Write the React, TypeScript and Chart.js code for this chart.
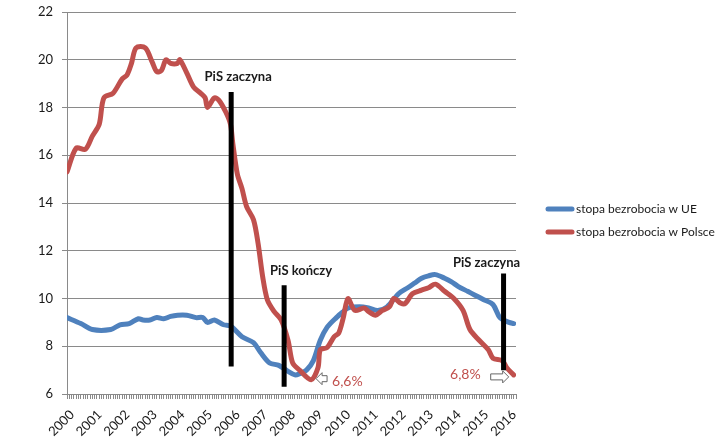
import React, { useEffect, useRef } from 'react';
import { Chart, registerables, Plugin } from 'chart.js';

Chart.register(...registerables);

// months counted from Jan 2000
const plMonths = [0, 4, 8, 11, 14, 16, 20, 24, 26, 28, 30, 34, 37, 39, 41, 43, 45, 48, 49, 52, 55, 58, 60, 61, 64, 66, 69, 71, 72, 74, 76, 78, 81, 83, 85, 87, 90, 93, 96, 98, 101, 106, 109, 110, 113, 116, 118, 120, 122, 125, 129, 131, 134, 137, 140, 142, 145, 147, 150, 154, 157, 160, 164, 168, 172, 175, 179, 183, 185, 189, 191, 194];
const plRate = [15.3, 16.3, 16.25, 16.8, 17.3, 18.4, 18.6, 19.2, 19.35, 19.85, 20.5, 20.5, 19.9, 19.5, 19.55, 20.0, 19.85, 19.85, 20.0, 19.45, 18.85, 18.6, 18.4, 18.0, 18.4, 18.3, 17.8, 17.3, 16.5, 15.2, 14.6, 13.85, 13.3, 12.3, 10.9, 9.95, 9.45, 9.1, 8.25, 7.3, 7.0, 6.6, 7.1, 7.85, 7.95, 8.4, 8.55, 9.2, 10.0, 9.5, 9.6, 9.45, 9.3, 9.5, 9.65, 10.0, 9.8, 9.8, 10.2, 10.35, 10.45, 10.6, 10.3, 10.0, 9.5, 8.7, 8.25, 7.85, 7.5, 7.4, 7.1, 6.8];

const ueMonths = [0, 6, 11, 19, 23, 27, 31, 33, 36, 39, 42, 45, 48, 52, 56, 59, 61, 64, 68, 71, 76, 81, 84, 88, 92, 96, 99, 101, 104, 107, 110, 113, 117, 120, 122, 127, 131, 135, 139, 144, 148, 151, 154, 157, 160, 164, 167, 170, 174, 177, 181, 185, 188, 192, 194];
const ueRate = [9.2, 8.95, 8.7, 8.7, 8.9, 8.95, 9.15, 9.1, 9.1, 9.2, 9.15, 9.25, 9.3, 9.3, 9.2, 9.2, 9.0, 9.1, 8.9, 8.85, 8.4, 8.15, 7.75, 7.3, 7.2, 6.95, 6.8, 6.85, 7.0, 7.4, 8.25, 8.8, 9.2, 9.45, 9.6, 9.65, 9.6, 9.5, 9.65, 10.2, 10.45, 10.65, 10.85, 10.95, 11.0, 10.85, 10.7, 10.5, 10.3, 10.15, 9.95, 9.75, 9.2, 9.0, 8.95];

const seriesNames = ['stopa bezrobocia w UE', 'stopa bezrobocia w Polsce'];
const firstYear = 2000;

// PiS government start/end markers
const pisMonths = [71.3, 94.3, 189.6];
const pisTop = [18.65, 10.55, 11.05];
const pisBottom = [7.15, 6.3, 7.0];
const pisLabels = ['PiS zaczyna', 'PiS kończy', 'PiS zaczyna'];

const BLUE = '#4F81BD';
const RED = '#C0504D';
const TEXT = '#1a1a1a';
const GRID = '#8a8a8a';
const FONT = 'Lato, "Open Sans", sans-serif';

const toPoints = (xs: number[], ys: number[]) => xs.map((x, i) => ({ x, y: ys[i] }));
const pct = (v: number) => `${v.toFixed(1).replace('.', ',')}%`;

const arrow = (ctx: CanvasRenderingContext2D, tipX: number, y: number, len: number, dir: number) => {
  const head = 6;
  const h = 6;
  const s = 3;
  ctx.beginPath();
  ctx.moveTo(tipX, y);
  ctx.lineTo(tipX - dir * head, y - h);
  ctx.lineTo(tipX - dir * head, y - s);
  ctx.lineTo(tipX - dir * len, y - s);
  ctx.lineTo(tipX - dir * len, y + s);
  ctx.lineTo(tipX - dir * head, y + s);
  ctx.lineTo(tipX - dir * head, y + h);
  ctx.closePath();
  ctx.fillStyle = '#fff';
  ctx.fill();
  ctx.strokeStyle = '#666';
  ctx.lineWidth = 1;
  ctx.stroke();
};

const notesPlugin: Plugin = {
  id: 'notes',
  afterDraw(chart) {
    const { ctx, scales } = chart;
    const xs = scales.x;
    const ys = scales.y;
    ctx.save();

    // PiS labels
    const shift = [[7, -15], [17, -15], [-17, -11]];
    ctx.font = `bold 13px ${FONT}`;
    ctx.fillStyle = TEXT;
    ctx.textAlign = 'center';
    ctx.textBaseline = 'middle';
    pisLabels.forEach((t, i) => {
      ctx.fillText(t, xs.getPixelForValue(pisMonths[i]) + shift[i][0], ys.getPixelForValue(pisTop[i]) + shift[i][1]);
    });

    // minimum of Polish rate and last value
    let mi = 0;
    plRate.forEach((v, i) => { if (v < plRate[mi]) mi = i; });
    const mx = xs.getPixelForValue(plMonths[mi]);
    const my = ys.getPixelForValue(plRate[mi]);
    const li = plRate.length - 1;
    const lx = xs.getPixelForValue(plMonths[li]);
    const ly = ys.getPixelForValue(plRate[li]);

    arrow(ctx, mx + 5, my - 1, 11, -1);
    arrow(ctx, lx - 5, ly + 2, 18, 1);

    ctx.font = `14px ${FONT}`;
    ctx.fillStyle = RED;
    ctx.textAlign = 'left';
    ctx.fillText(pct(plRate[mi]), mx + 21, my + 2);
    ctx.textAlign = 'right';
    ctx.fillText(pct(plRate[li]), lx - 33, ly);

    // legend
    const colors = [BLUE, RED];
    ctx.font = `12px ${FONT}`;
    ctx.textAlign = 'left';
    seriesNames.forEach((name, i) => {
      const y = 209 + i * 23;
      ctx.strokeStyle = colors[i];
      ctx.lineWidth = 5;
      ctx.lineCap = 'round';
      ctx.beginPath();
      ctx.moveTo(548, y);
      ctx.lineTo(572, y);
      ctx.stroke();
      ctx.fillStyle = TEXT;
      ctx.fillText(name, 576, y);
    });
    ctx.restore();
  },
};

const App: React.FC = () => {
  const chartRef = useRef<HTMLCanvasElement | null>(null);

  useEffect(() => {
    if (!chartRef.current) return;
    const ctx = chartRef.current.getContext('2d');
    if (!ctx) return;

    const bars = pisMonths.map((m, i) => ({
      label: pisLabels[i],
      data: [{ x: m, y: pisTop[i] }, { x: m, y: pisBottom[i] }],
      borderColor: '#000',
      borderWidth: 5,
      borderCapStyle: 'butt' as const,
      pointRadius: 0,
      order: 0,
    }));

    const chartInstance = new Chart(ctx, {
      type: 'line',
      data: {
        datasets: [
          ...bars,
          {
            label: seriesNames[1],
            data: toPoints(plMonths, plRate),
            borderColor: RED,
            borderWidth: 5,
            pointRadius: 0,
            tension: 0.3,
            borderJoinStyle: 'round',
            borderCapStyle: 'round',
            order: 1,
          },
          {
            label: seriesNames[0],
            data: toPoints(ueMonths, ueRate),
            borderColor: BLUE,
            borderWidth: 5,
            pointRadius: 0,
            tension: 0.3,
            borderJoinStyle: 'round',
            borderCapStyle: 'round',
            order: 2,
          },
        ],
      },
      options: {
        responsive: false,
        animation: false,
        layout: { padding: { top: 0, right: 204, left: 0, bottom: 0 } },
        plugins: { legend: { display: false }, tooltip: { enabled: false } },
        scales: {
          x: {
            type: 'linear',
            min: 0,
            max: 195,
            afterFit: (s) => { s.height = 45; },
            grid: { drawOnChartArea: false, drawTicks: true, tickLength: 5, color: GRID },
            border: { color: GRID },
            ticks: {
              stepSize: 1,
              autoSkip: false,
              minRotation: 45,
              maxRotation: 45,
              padding: 8,
              labelOffset: 5,
              color: TEXT,
              font: { family: FONT, size: 13 },
              callback: (v) => (Number(v) % 12 === 0 ? String(firstYear + Number(v) / 12) : ''),
            },
          },
          y: {
            min: 6,
            max: 22,
            afterFit: (s) => {
              s.width = 67;
              s.paddingTop = 12;
              s.paddingBottom = 0;
            },
            grid: { color: GRID, tickLength: 5 },
            border: { color: GRID },
            ticks: {
              stepSize: 2,
              padding: 9,
              color: TEXT,
              font: { family: FONT, size: 13 },
            },
          },
        },
      },
      plugins: [notesPlugin],
    });

    return () => chartInstance.destroy();
  }, []);

  return (
    <div style={{ position: 'fixed', left: 0, top: 0, width: 720, height: 439, background: '#fff' }}>
      <canvas ref={chartRef} width={720} height={439} />
    </div>
  );
};

export default App;
